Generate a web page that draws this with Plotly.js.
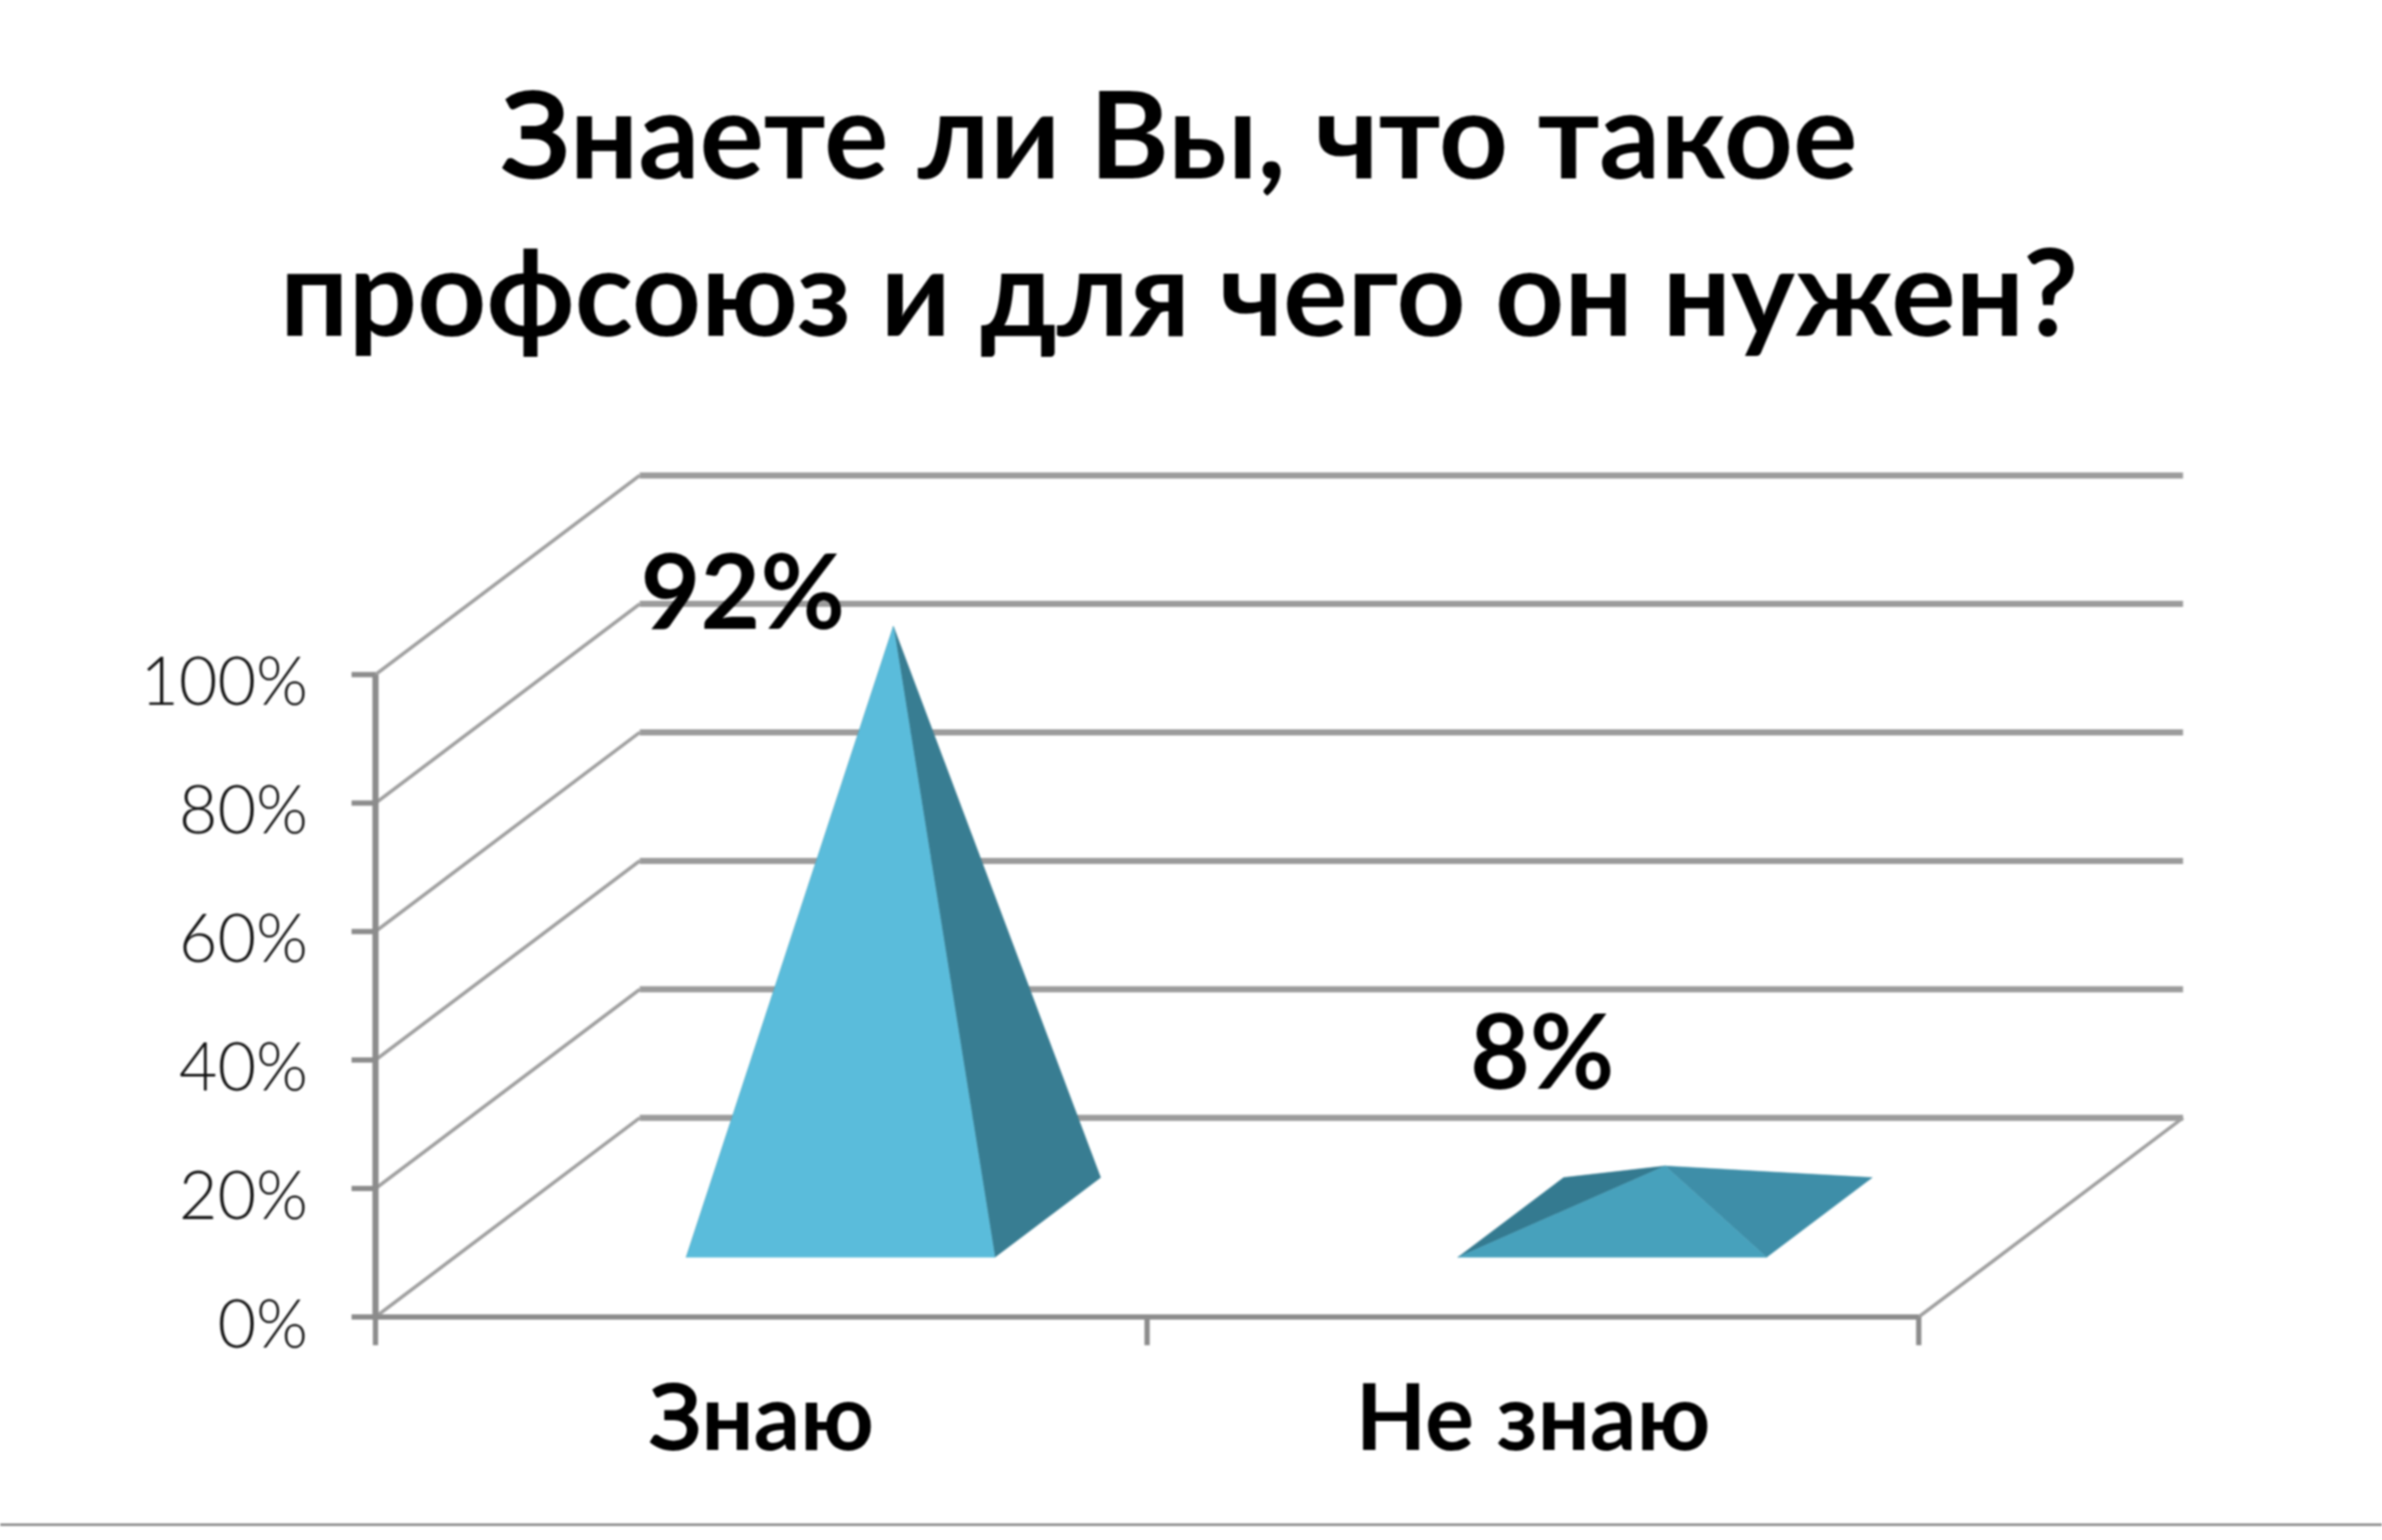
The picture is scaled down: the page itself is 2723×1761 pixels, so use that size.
<!DOCTYPE html>
<html><head><meta charset="utf-8">
<script src="https://cdn.plot.ly/plotly-3.0.1.min.js"></script>
<style>html,body{margin:0;padding:0;background:#fff}#c{width:2723px;height:1761px;filter:blur(0.8px)}</style>
</head><body><div id="c"></div>
<script>
const chartTitle = 'Знаете ли Вы, что такое<br>профсоюз и для чего он нужен?';
const categories = ['Знаю', 'Не знаю'];
const values = [92, 8];
const gridValues = [0, 20, 40, 60, 80, 100];
const categoryEdges = [0, 1, 2];
const faceColors = {
  front: ['#5ABCDB', '#47A1BC'],
  right: ['#387D92', '#3E8EA8'],
  left:  ['#387D92', '#347A90']
};
const labelOffsets = [{dx: -0.024, dy: 19.1}, {dx: 0.012, dy: 31.6}];

const FONT = 'Lato, "Noto Sans", sans-serif';
const DX = 0.3425, DY = 31;
const project = (x, d, v) => [x + d * DX, v + d * DY];
const GRID = '#9c9c9c', SLANT = '#a0a0a0', AXIS = '#8c8c8c';
const YTICK = 0.031, XTICK = 4.4;

function line(xs, ys, color, width) {
  return {type:'scatter', mode:'lines', x:xs, y:ys, line:{color, width}, hoverinfo:'skip', showlegend:false, cliponaxis:false};
}
function poly(points, color) {
  return {type:'scatter', mode:'lines', x:points.map(p=>p[0]), y:points.map(p=>p[1]), fill:'toself', fillcolor:color,
          line:{color, width:0.5}, hoverinfo:'skip', showlegend:false, cliponaxis:false};
}
const traces = [];
const slantX = [], slantY = [], backX = [], backY = [], tickX = [], tickY = [];
gridValues.forEach(v => {
  const a = project(0, 0, v), b = project(0, 1, v), c = project(categoryEdges[2], 1, v);
  slantX.push(a[0], b[0], null); slantY.push(a[1], b[1], null);
  backX.push(b[0], c[0], null); backY.push(b[1], c[1], null);
  tickX.push(-YTICK, 0, null); tickY.push(v, v, null);
});
categoryEdges.forEach(e => { tickX.push(e, e, null); tickY.push(-XTICK, 0, null); });
const fr0 = project(categoryEdges[2], 0, 0), fr1 = project(categoryEdges[2], 1, 0);
slantX.push(fr0[0], fr1[0]); slantY.push(fr0[1], fr1[1]);
traces.push(line(backX, backY, GRID, 7));
traces.push(line(slantX, slantY, SLANT, 4));
traces.push(line([0, 0], [0, gridValues[5]], AXIS, 7));
traces.push(line([categoryEdges[0], categoryEdges[2]], [0, 0], AXIS, 6));
traces.push(line(tickX, tickY, AXIS, 6));

values.forEach((v, i) => {
  const c = i + 0.5, w = 0.2;
  const FL = project(c - w, 0.3, 0), FR = project(c + w, 0.3, 0),
        BL = project(c - w, 0.7, 0), BR = project(c + w, 0.7, 0),
        AP = project(c, 0.5, v);
  traces.push(poly([FL, BL, AP, FL], faceColors.left[i]));
  traces.push(poly([FR, BR, AP, FR], faceColors.right[i]));
  traces.push(poly([FL, FR, AP, FL], faceColors.front[i]));
});
traces.push({type:'scatter', mode:'text', cliponaxis:false, hoverinfo:'skip', showlegend:false,
  x: values.map((v, i) => i + 0.5 + labelOffsets[i].dx),
  y: values.map((v, i) => v + labelOffsets[i].dy),
  text: values.map(v => v + '%'),
  textposition:'middle center',
  textfont:{family:FONT, size:118, color:'#000', weight:700}});

const layout = {
  width:2723, height:1761, paper_bgcolor:'#fff', plot_bgcolor:'#fff', showlegend:false,
  margin:{l:400.8, r:212, t:529, b:222, pad:0},
  title:{text:chartTitle, x:0.495, xref:'container', xanchor:'center', y:0.884, yref:'container', yanchor:'top',
         font:{family:FONT, size:138, color:'#000', weight:700}},
  xaxis:{range:[-0.032, 2.36], zeroline:false, showgrid:false, showline:false, fixedrange:true,
    tickmode:'array', tickvals:categories.map((c,i)=>i+0.5), ticktext:categories, ticks:'', ticklabelstandoff:13,
    tickfont:{family:FONT, size:105, color:'#000', weight:700}},
  yaxis:{range:[-4.5, 133], zeroline:false, showgrid:false, showline:false, fixedrange:true,
    tickmode:'array', tickvals:gridValues, ticktext:gridValues.map(v=>v+'%'), ticks:'',
    ticklabelstandoff:48, ticklabelshift:8, tickfont:{family:FONT, size:76, color:'#111111', weight:300}},
  shapes:[{type:'line', xref:'paper', yref:'paper', x0:-400.8/2110.2, x1:2322.2/2110.2, y0:-0.2025, y1:-0.2025, line:{color:'#8f8f8f', width:3}}]
};
Plotly.newPlot('c', traces, layout, {staticPlot:true, displayModeBar:false});
</script></body></html>
